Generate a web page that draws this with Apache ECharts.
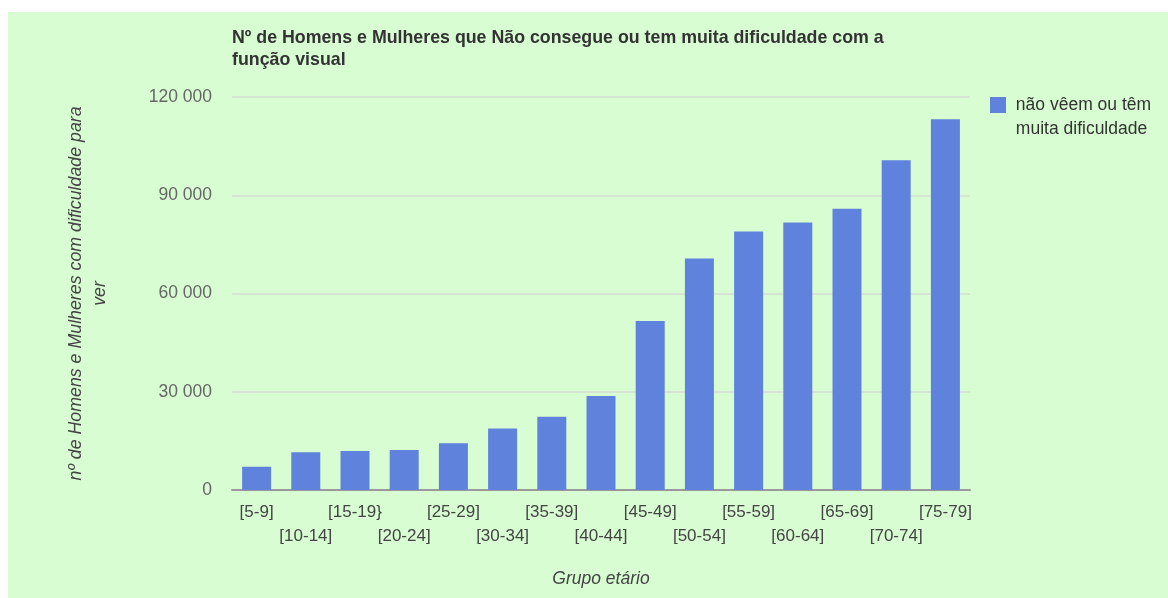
<!DOCTYPE html>
<html>
<head>
<meta charset="utf-8">
<script src="https://cdn.jsdelivr.net/npm/echarts@6/dist/echarts.min.js"></script>
<style>
html,body{margin:0;padding:0;background:#fff;width:1168px;height:598px;overflow:hidden;}
#c{position:absolute;left:8px;top:12px;width:1160px;height:586px;}
</style>
</head>
<body>
<div id="c"></div>
<script>
const categories = ['[5-9]','[10-14]','[15-19}','[20-24]','[25-29]','[30-34]','[35-39]','[40-44]','[45-49]','[50-54]','[55-59]','[60-64]','[65-69]','[70-74]','[75-79]'];
const values = [7100, 11500, 11900, 12200, 14250, 18800, 22400, 28700, 51600, 70700, 78950, 81700, 85850, 100700, 113200];
const seriesName = 'não vêem ou têm muita dificuldade';
const titleText = 'Nº de Homens e Mulheres que Não consegue ou tem muita dificuldade com a\nfunção visual';
const yAxisName = 'nº de Homens e Mulheres com dificuldade para\nver';
const xAxisName = 'Grupo etário';
const yTicks = {min: 0, max: 120000, interval: 30000};

const FONT = '"Liberation Sans", Arial, sans-serif';
const chart = echarts.init(document.getElementById('c'));
chart.setOption({
  backgroundColor: '#d8fdd2',
  animation: false,
  textStyle: {fontFamily: FONT},
  title: {
    text: titleText,
    left: 219, top: 10,
    textStyle: {fontFamily: FONT, fontSize: 17.8, fontWeight: 'bold', color: '#333', lineHeight: 22}
  },
  legend: {
    left: 977, top: 52,
    itemWidth: 16, itemHeight: 16, itemGap: 10,
    icon: 'rect',
    formatter: n => '\n ' + n.replace('têm ', 'têm\n '),
    textStyle: {fontFamily: FONT, fontSize: 17.5, color: '#333', lineHeight: 24},
    data: [seriesName]
  },
  grid: {left: 224, right: 198, top: 85, bottom: 108, containLabel: false},
  xAxis: {
    type: 'category',
    data: categories,
    name: xAxisName,
    nameLocation: 'middle',
    nameGap: 80,
    nameTextStyle: {fontFamily: FONT, fontSize: 17.5, fontStyle: 'italic', color: '#444'},
    axisLine: {lineStyle: {color: '#9a9a9a', width: 2}},
    axisTick: {show: false},
    axisLabel: {
      interval: 0, margin: 10,
      fontFamily: FONT, fontSize: 17, color: '#444', lineHeight: 24,
      formatter: (v, i) => (i % 2 ? '\n' : '') + v
    }
  },
  yAxis: {
    type: 'value',
    min: yTicks.min, max: yTicks.max, interval: yTicks.interval,
    name: yAxisName,
    nameLocation: 'middle',
    nameRotate: 90,
    nameGap: 120,
    nameTextStyle: {fontFamily: FONT, fontSize: 17.8, fontStyle: 'italic', color: '#444', lineHeight: 24},
    axisLine: {show: false},
    axisTick: {show: false},
    splitLine: {lineStyle: {color: '#d6ddd3', width: 1.5}},
    axisLabel: {
      margin: 20,
      fontFamily: FONT, fontSize: 17.5, color: '#666',
      formatter: v => String(v).replace(/\B(?=(\d{3})+(?!\d))/g, ' ')
    }
  },
  series: [{
    name: seriesName,
    type: 'bar',
    data: values,
    barWidth: 29,
    itemStyle: {color: '#5f83dc'}
  }]
});
</script>
</body>
</html>
